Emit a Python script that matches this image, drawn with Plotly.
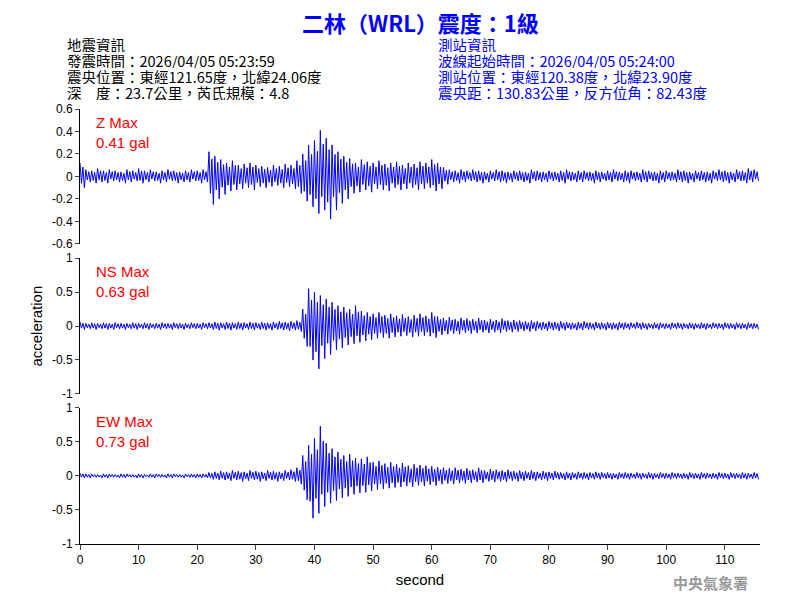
import plotly.graph_objects as go

# per-second envelope readings (top = max, bottom = min) for each component, seconds 0..115
z_top = [0.12,0.06,0.05,0.07,0.05,0.06,0.05,0.04,0.06,0.05,
         0.07,0.05,0.06,0.04,0.05,0.06,0.05,0.04,0.05,0.06,
         0.05,0.06,0.22,0.18,0.15,0.12,0.14,0.10,0.11,0.12,
         0.10,0.09,0.08,0.10,0.09,0.11,0.10,0.14,0.20,0.28,
         0.32,0.41,0.34,0.28,0.22,0.18,0.16,0.12,0.15,0.13,
         0.12,0.14,0.11,0.12,0.13,0.10,0.12,0.11,0.13,0.12,
         0.15,0.12,0.08,0.06,0.05,0.06,0.05,0.06,0.05,0.04,
         0.05,0.06,0.05,0.04,0.05,0.05,0.04,0.06,0.05,0.04,
         0.05,0.04,0.05,0.06,0.04,0.05,0.05,0.04,0.05,0.04,
         0.05,0.06,0.04,0.05,0.05,0.04,0.06,0.05,0.04,0.05,
         0.05,0.04,0.06,0.05,0.04,0.05,0.05,0.04,0.05,0.06,
         0.05,0.04,0.06,0.05,0.07,0.06]
z_bot = [-0.10,-0.05,-0.06,-0.05,-0.06,-0.04,-0.05,-0.06,-0.05,-0.04,
         -0.06,-0.05,-0.04,-0.06,-0.05,-0.04,-0.06,-0.05,-0.05,-0.04,
         -0.06,-0.05,-0.25,-0.20,-0.16,-0.13,-0.12,-0.11,-0.10,-0.12,
         -0.09,-0.10,-0.09,-0.08,-0.10,-0.09,-0.11,-0.15,-0.22,-0.27,
         -0.33,-0.30,-0.38,-0.30,-0.24,-0.20,-0.15,-0.14,-0.12,-0.14,
         -0.11,-0.12,-0.13,-0.10,-0.12,-0.11,-0.10,-0.12,-0.11,-0.10,
         -0.13,-0.11,-0.07,-0.05,-0.06,-0.05,-0.04,-0.05,-0.06,-0.05,
         -0.04,-0.05,-0.06,-0.05,-0.04,-0.05,-0.06,-0.04,-0.05,-0.05,
         -0.04,-0.05,-0.06,-0.04,-0.05,-0.05,-0.04,-0.06,-0.05,-0.04,
         -0.05,-0.04,-0.05,-0.06,-0.04,-0.05,-0.05,-0.04,-0.06,-0.05,
         -0.04,-0.05,-0.05,-0.06,-0.05,-0.04,-0.05,-0.06,-0.04,-0.05,
         -0.06,-0.05,-0.04,-0.06,-0.05,-0.04]
ns_top = [0.06,0.04,0.05,0.04,0.05,0.04,0.05,0.04,0.04,0.05,
          0.04,0.05,0.04,0.04,0.05,0.04,0.05,0.04,0.04,0.05,
          0.04,0.05,0.05,0.06,0.05,0.06,0.05,0.06,0.05,0.06,
          0.05,0.06,0.05,0.06,0.07,0.06,0.07,0.08,0.25,0.55,
          0.50,0.45,0.40,0.35,0.30,0.28,0.25,0.30,0.22,0.20,
          0.18,0.20,0.16,0.18,0.15,0.17,0.14,0.16,0.18,0.15,
          0.20,0.14,0.12,0.13,0.10,0.12,0.11,0.10,0.12,0.09,
          0.10,0.09,0.11,0.08,0.09,0.08,0.07,0.08,0.07,0.06,
          0.07,0.06,0.07,0.06,0.05,0.06,0.07,0.05,0.06,0.05,
          0.06,0.05,0.06,0.05,0.05,0.06,0.05,0.04,0.05,0.05,
          0.04,0.05,0.05,0.04,0.05,0.04,0.05,0.04,0.05,0.04,
          0.05,0.04,0.05,0.04,0.05,0.04]
ns_bot = [-0.05,-0.04,-0.05,-0.04,-0.05,-0.05,-0.04,-0.05,-0.04,-0.05,
          -0.04,-0.05,-0.04,-0.05,-0.04,-0.05,-0.04,-0.05,-0.04,-0.04,
          -0.05,-0.04,-0.05,-0.06,-0.05,-0.06,-0.05,-0.06,-0.05,-0.06,
          -0.05,-0.06,-0.06,-0.05,-0.06,-0.07,-0.06,-0.08,-0.30,-0.50,
          -0.63,-0.48,-0.42,-0.35,-0.32,-0.28,-0.26,-0.24,-0.22,-0.20,
          -0.18,-0.17,-0.18,-0.16,-0.15,-0.14,-0.16,-0.15,-0.14,-0.15,
          -0.17,-0.13,-0.12,-0.11,-0.12,-0.10,-0.11,-0.10,-0.09,-0.10,
          -0.09,-0.10,-0.08,-0.09,-0.08,-0.07,-0.08,-0.07,-0.06,-0.07,
          -0.06,-0.07,-0.06,-0.05,-0.06,-0.06,-0.05,-0.06,-0.05,-0.06,
          -0.05,-0.06,-0.05,-0.05,-0.04,-0.05,-0.05,-0.04,-0.05,-0.04,
          -0.05,-0.04,-0.05,-0.04,-0.05,-0.04,-0.05,-0.04,-0.04,-0.05,
          -0.04,-0.05,-0.04,-0.05,-0.04,-0.05]
ew_top = [0.04,0.03,0.03,0.02,0.03,0.03,0.02,0.03,0.03,0.02,
          0.03,0.02,0.03,0.03,0.02,0.03,0.03,0.02,0.03,0.03,
          0.03,0.03,0.05,0.06,0.07,0.06,0.08,0.07,0.06,0.08,
          0.07,0.06,0.08,0.07,0.06,0.08,0.09,0.12,0.30,0.45,
          0.55,0.73,0.48,0.40,0.35,0.30,0.32,0.26,0.25,0.28,
          0.20,0.22,0.18,0.20,0.17,0.19,0.15,0.17,0.16,0.15,
          0.14,0.13,0.12,0.11,0.12,0.10,0.11,0.09,0.12,0.08,
          0.10,0.09,0.08,0.09,0.07,0.08,0.07,0.08,0.06,0.07,
          0.06,0.07,0.05,0.06,0.05,0.06,0.05,0.05,0.06,0.05,
          0.05,0.04,0.05,0.05,0.04,0.05,0.04,0.05,0.04,0.05,
          0.04,0.05,0.04,0.04,0.05,0.04,0.05,0.04,0.04,0.05,
          0.04,0.05,0.04,0.05,0.04,0.05]
ew_bot = [-0.03,-0.03,-0.02,-0.03,-0.03,-0.02,-0.03,-0.03,-0.02,-0.03,
          -0.03,-0.02,-0.03,-0.02,-0.03,-0.03,-0.02,-0.03,-0.02,-0.03,
          -0.03,-0.03,-0.05,-0.06,-0.06,-0.07,-0.06,-0.08,-0.07,-0.06,
          -0.08,-0.07,-0.06,-0.08,-0.07,-0.06,-0.08,-0.12,-0.35,-0.62,
          -0.55,-0.45,-0.40,-0.36,-0.32,-0.30,-0.27,-0.25,-0.24,-0.22,
          -0.20,-0.19,-0.18,-0.17,-0.16,-0.15,-0.16,-0.14,-0.15,-0.13,
          -0.14,-0.12,-0.11,-0.12,-0.10,-0.11,-0.10,-0.09,-0.10,-0.08,
          -0.09,-0.08,-0.09,-0.07,-0.08,-0.07,-0.06,-0.07,-0.06,-0.07,
          -0.06,-0.05,-0.06,-0.06,-0.05,-0.05,-0.06,-0.05,-0.05,-0.04,
          -0.05,-0.05,-0.04,-0.05,-0.04,-0.05,-0.04,-0.05,-0.04,-0.04,
          -0.05,-0.04,-0.04,-0.05,-0.04,-0.05,-0.04,-0.04,-0.05,-0.04,
          -0.05,-0.04,-0.04,-0.05,-0.04,-0.05]

labels = ["Z Max<br>0.41 gal", "NS Max<br>0.63 gal", "EW Max<br>0.73 gal"]
ranges = [[-0.6, 0.6], [-1, 1], [-1, 1]]
domains = [[0.690, 1.0], [0.345, 0.657], [0.0, 0.313]]
ticks = [[-0.6,-0.4,-0.2,0,0.2,0.4,0.6], [-1,-0.5,0,0.5,1], [-1,-0.5,0,0.5,1]]
ticktext = [["-0.6","-0.4","-0.2","0","0.2","0.4","0.6"], ["-1","-0.5","0","0.5","1"], ["-1","-0.5","0","0.5","1"]]
left_lines = ["地震資訊", "發震時間：2026/04/05 05:23:59", "震央位置：東經121.65度，北緯24.06度", "深　度：23.7公里，芮氏規模：4.8"]
right_lines = ["測站資訊", "波線起始時間：2026/04/05 05:24:00", "測站位置：東經120.38度，北緯23.90度", "震央距：130.83公里，反方位角：82.43度"]

def zigzag(top, bot):
    xs, ys = [], []
    for i, (a, b) in enumerate(zip(top, bot)):
        xs += [i, i + 0.25, i + 0.5, i + 0.75]
        ys += [a, b * 0.6, a * 0.7, b]
    return xs, ys

def py(p):  # pixel row -> paper y
    return (543 - p) / 435

fig = go.Figure()
data = [(z_top, z_bot), (ns_top, ns_bot), (ew_top, ew_bot)]
for k, (t, b) in enumerate(data):
    xs, ys = zigzag(t, b)
    n = "" if k == 0 else str(k + 1)
    fig.add_trace(go.Scatter(x=xs, y=ys, mode="lines", line=dict(color="#0000ff", width=1),
                             xaxis="x" + n, yaxis="y" + n, showlegend=False))
    ax = dict(domain=domains[k], range=ranges[k], tickvals=ticks[k], ticktext=ticktext[k],
              showgrid=False, zeroline=False, showline=True, linecolor="black", ticks="outside",
              ticklen=4, tickfont=dict(size=12, color="black"), anchor="x" + n, automargin=False)
    fig.layout["yaxis" + n] = ax
    xa = dict(range=[0, 116], showgrid=False, zeroline=False, showline=k == 2, linecolor="black",
              ticks="outside" if k == 2 else "", showticklabels=k == 2, tickvals=list(range(0, 120, 10)),
              anchor="y" + n, domain=[0, 1], tickfont=dict(size=12, color="black"), automargin=False)
    if k > 0:
        xa["matches"] = "x"
    fig.layout["xaxis" + n] = xa
    fig.add_annotation(text=labels[k], xref="x" + n + " domain" if n else "x domain",
                       yref="y" + n + " domain" if n else "y domain", x=0.02, y=0.98,
                       xanchor="left", yanchor="top", showarrow=False, align="left",
                       font=dict(size=15, color="red", family="Arial"))

fig.layout.xaxis3.title = dict(text="second", font=dict(size=15, color="black"), standoff=8)

font = "Noto Sans CJK TC"
fig.add_annotation(text="<b>二林（WRL）震度：1級</b>", xref="paper", yref="paper", x=0.5, y=py(21),
                   xanchor="center", yanchor="middle", showarrow=False,
                   font=dict(size=22, color="#0000ff", family=font))
for i, (lt, rt) in enumerate(zip(left_lines, right_lines)):
    yy = py(43 + 16 * i)
    fig.add_annotation(text=lt, xref="paper", yref="paper", x=-0.022, y=yy, xanchor="left",
                       yanchor="middle", showarrow=False, height=16,
                       font=dict(size=14.5, color="black", family=font))
    fig.add_annotation(text=rt, xref="paper", yref="paper", x=0.523, y=yy, xanchor="left",
                       yanchor="middle", showarrow=False, height=16,
                       font=dict(size=14.5, color="#0000ff", family=font))
fig.add_annotation(text="acceleration", xref="paper", yref="paper", x=-0.08, y=0.5, textangle=-90,
                   showarrow=False, font=dict(size=15, color="black"))
fig.add_annotation(text="<b>中央氣象署</b>", xref="paper", yref="paper", x=0.985, y=py(581),
                   xanchor="right", yanchor="middle", showarrow=False,
                   font=dict(size=15, color="#999999", family=font))

fig.update_layout(width=800, height=600, margin=dict(l=72, r=48, t=101, b=64, autoexpand=False),
                  plot_bgcolor="white", paper_bgcolor="white",
                  font=dict(family="Arial, Liberation Sans", color="black"))
fig.write_html("out.html")
